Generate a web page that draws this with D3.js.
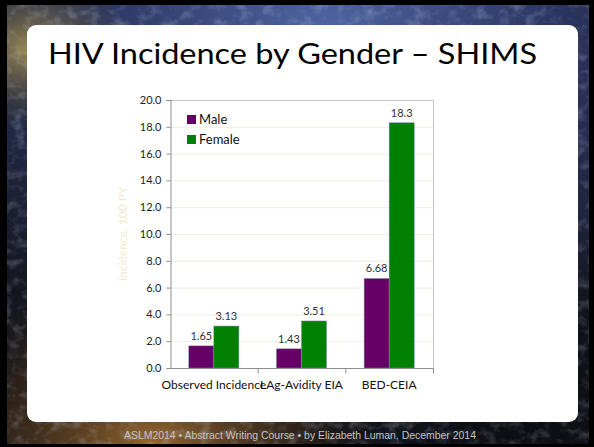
<!DOCTYPE html>
<html>
<head>
<meta charset="utf-8">
<script src="https://cdn.jsdelivr.net/npm/d3@7"></script>
<style>
  html, body { margin: 0; padding: 0; background: #000; }
  svg { display: block; }
</style>
</head>
<body>
<script>
var categories = ["Observed Incidence", "LAg-Avidity EIA", "BED-CEIA"];
var seriesNames = ["Male", "Female"];
var maleValues = [1.65, 1.43, 6.68];
var femaleValues = [3.13, 3.51, 18.3];
var maleLabels = ["1.65", "1.43", "6.68"];
var femaleLabels = ["3.13", "3.51", "18.3"];
var yTicks = [0, 2, 4, 6, 8, 10, 12, 14, 16, 18, 20];

var W = 594, H = 447;
var colors = {Male: "#660066", Female: "#008000"};

var svg = d3.select("body").append("svg")
    .attr("width", W)
    .attr("height", H);

var defs = svg.append("defs");

// painted-looking backdrop
var gBlue = defs.append("radialGradient").attr("id", "gBlue")
    .attr("cx", 0.55).attr("cy", 0.05).attr("r", 0.8);
gBlue.append("stop").attr("offset", 0).attr("stop-color", "#4e64a0");
gBlue.append("stop").attr("offset", 0.5).attr("stop-color", "#2a3560");
gBlue.append("stop").attr("offset", 1).attr("stop-color", "#14161f");

var gOrange = defs.append("radialGradient").attr("id", "gOrange")
    .attr("cx", 0.25).attr("cy", 1).attr("r", 0.4);
gOrange.append("stop").attr("offset", 0).attr("stop-color", "#9a6a30").attr("stop-opacity", 0.95);
gOrange.append("stop").attr("offset", 0.6).attr("stop-color", "#4a3218").attr("stop-opacity", 0.6);
gOrange.append("stop").attr("offset", 1).attr("stop-color", "#2a2010").attr("stop-opacity", 0);

var gYellow = defs.append("radialGradient").attr("id", "gYellow")
    .attr("cx", 0.04).attr("cy", 0.1).attr("r", 0.18);
gYellow.append("stop").attr("offset", 0).attr("stop-color", "#b8a058").attr("stop-opacity", 0.8);
gYellow.append("stop").attr("offset", 1).attr("stop-color", "#5a5030").attr("stop-opacity", 0);

var gDark = defs.append("radialGradient").attr("id", "gDark")
    .attr("cx", 0.9).attr("cy", 0.95).attr("r", 0.45);
gDark.append("stop").attr("offset", 0).attr("stop-color", "#0c0d12").attr("stop-opacity", 0.9);
gDark.append("stop").attr("offset", 1).attr("stop-color", "#0c0d12").attr("stop-opacity", 0);

var noise = defs.append("filter").attr("id", "noise")
    .attr("x", 0).attr("y", 0).attr("width", "100%").attr("height", "100%");
noise.append("feTurbulence").attr("type", "fractalNoise")
    .attr("baseFrequency", "0.08 0.1").attr("numOctaves", 3).attr("seed", 4);
noise.append("feColorMatrix").attr("type", "matrix")
    .attr("values", "0 0 0 0 0.8  0 0 0 0 0.85  0 0 0 0 1  0 0 0 1.6 -0.75");

var bg = svg.append("g");
["url(#gBlue)", "url(#gOrange)", "url(#gYellow)", "url(#gDark)"].forEach(function(f) {
  bg.append("rect").attr("x", 7).attr("y", 5).attr("width", 582).attr("height", 439).attr("fill", f);
});
bg.append("rect").attr("x", 7).attr("y", 5).attr("width", 582).attr("height", 439)
    .attr("filter", "url(#noise)").attr("opacity", 0.35);

// white slide panel
svg.append("rect")
    .attr("x", 27).attr("y", 25)
    .attr("width", 551).attr("height", 397)
    .attr("rx", 9).attr("ry", 9)
    .attr("fill", "#ffffff");

svg.append("text")
    .attr("x", 48).attr("y", 64)
    .attr("textLength", 489).attr("lengthAdjust", "spacingAndGlyphs")
    .style("font-family", "Lato, 'Open Sans', sans-serif")
    .style("font-size", "29px")
    .attr("fill", "#000")
    .text("HIV Incidence by Gender \u2013 SHIMS");

// chart
var plotLeft = 170, plotRight = 433, plotTop = 100, plotBottom = 368;

var x = d3.scaleBand().domain(categories).range([plotLeft, plotRight]).padding(0);
var xSub = d3.scaleBand().domain(seriesNames).range([0, x.bandwidth()])
    .paddingInner(0).paddingOuter(0.75);
var y = d3.scaleLinear().domain([0, 20]).range([plotBottom, plotTop]);

var chart = svg.append("g").style("font-family", "Lato, 'Open Sans', sans-serif");

// gridlines
chart.append("g")
  .selectAll("line")
  .data(yTicks.filter(function(d) { return d > 0 && d < 20; }))
  .join("line")
    .attr("x1", plotLeft).attr("x2", plotRight)
    .attr("y1", function(d) { return y(d) + 0.5; })
    .attr("y2", function(d) { return y(d) + 0.5; })
    .attr("stroke", "#efecdf")
    .attr("stroke-width", 1);

// plot border (top and right)
chart.append("path")
    .attr("d", "M" + plotLeft + "," + (plotTop + 0.5) + "H" + (plotRight + 0.5) + "V" + plotBottom)
    .attr("fill", "none")
    .attr("stroke", "#c4c4c4");

// bars
var rows = categories.map(function(c, i) {
  return {cat: c, values: [
    {name: "Male", v: maleValues[i], label: maleLabels[i]},
    {name: "Female", v: femaleValues[i], label: femaleLabels[i]}
  ]};
});

var groups = chart.append("g").selectAll("g")
  .data(rows)
  .join("g")
    .attr("transform", function(d) { return "translate(" + x(d.cat) + ",0)"; });

groups.selectAll("rect")
  .data(function(d) { return d.values; })
  .join("rect")
    .attr("x", function(d) { return xSub(d.name); })
    .attr("y", function(d) { return y(d.v); })
    .attr("width", xSub.bandwidth())
    .attr("height", function(d) { return y(0) - y(d.v); })
    .attr("fill", function(d) { return colors[d.name]; })
    .attr("stroke", "#7a8aa8")
    .attr("stroke-width", 0.5);

groups.selectAll("text")
  .data(function(d) { return d.values; })
  .join("text")
    .attr("x", function(d) { return xSub(d.name) + xSub.bandwidth() / 2; })
    .attr("y", function(d) { return y(d.v) - 6; })
    .attr("text-anchor", "middle")
    .style("font-size", "11px")
    .attr("fill", "#333")
    .text(function(d) { return d.label; });

// y axis
var yAxis = d3.axisLeft(y).tickValues(yTicks).tickSize(4).tickPadding(5)
    .tickFormat(d3.format(".1f"));
var ya = chart.append("g")
    .attr("transform", "translate(" + (plotLeft + 0.5) + ",0)")
    .call(yAxis);
ya.select(".domain").attr("stroke", "#8c8c8c");
ya.selectAll(".tick line").attr("stroke", "#8c8c8c");
ya.selectAll(".tick text")
    .style("font-family", "Lato, 'Open Sans', sans-serif")
    .style("font-size", "11px")
    .attr("fill", "#222");

// x axis
var xAxis = d3.axisBottom(x).tickSize(0).tickPadding(12);
var xa = chart.append("g")
    .attr("transform", "translate(0," + (plotBottom + 0.5) + ")")
    .call(xAxis);
xa.select(".domain").attr("stroke", "#8c8c8c").attr("d", "M" + plotLeft + ",0H" + (plotRight + 0.5));
xa.selectAll(".tick text")
    .style("font-family", "Lato, 'Open Sans', sans-serif")
    .style("font-size", "12px")
    .attr("fill", "#111");
// category separator ticks
xa.append("g").selectAll("line")
  .data(categories)
  .join("line")
    .attr("x1", function(d) { return x(d) + x.bandwidth() + 0.5; })
    .attr("x2", function(d) { return x(d) + x.bandwidth() + 0.5; })
    .attr("y1", 0).attr("y2", 5)
    .attr("stroke", "#8c8c8c");

// y axis title
chart.append("text")
    .attr("transform", "translate(127," + ((plotTop + plotBottom) / 2) + ") rotate(-90)")
    .attr("text-anchor", "middle")
    .style("font-size", "12px")
    .attr("fill", "#efeacf")
    .text("Incidence, 100 PY");

// legend
var legend = chart.append("g").attr("transform", "translate(187,115)");
var li = legend.selectAll("g")
  .data(seriesNames)
  .join("g")
    .attr("transform", function(d, i) { return "translate(0," + (i * 20) + ")"; });
li.append("rect")
    .attr("width", 9).attr("height", 9)
    .attr("fill", function(d) { return colors[d]; });
li.append("text")
    .attr("x", 12).attr("y", 4.5)
    .attr("dy", "0.35em")
    .style("font-size", "13px")
    .attr("fill", "#111")
    .text(function(d) { return d; });

// footer
svg.append("text")
    .attr("x", 124).attr("y", 438.5)
    .attr("textLength", 352).attr("lengthAdjust", "spacingAndGlyphs")
    .style("font-family", "'Liberation Sans', Arial, sans-serif")
    .style("font-size", "10px")
    .attr("fill", "#c4c4c4")
    .text("ASLM2014   \u2022  Abstract Writing Course  \u2022  by Elizabeth Luman, December 2014");
</script>
</body>
</html>
